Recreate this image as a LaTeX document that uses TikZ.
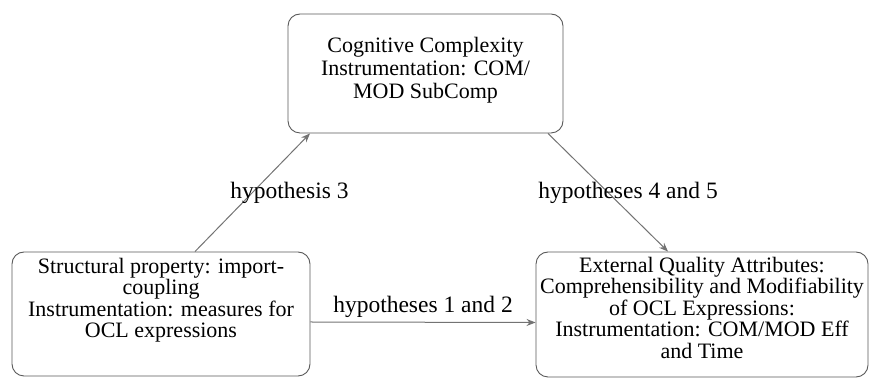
\documentclass[tikz,border=0pt]{standalone}
\usepackage{fontspec}
\setmainfont{Liberation Serif}
\usepackage{xcolor}
\usepackage{tikz}
\usetikzlibrary{shapes,arrows.meta,positioning,calc}

\begin{document}
\begin{tikzpicture}[
    x=1pt, y=1pt,
    box/.style={rectangle, draw=black!65, rounded corners=12pt, line width=0.9pt},
    boxtext/.style={align=center, font=\fontsize{22}{21.5}\selectfont, inner sep=0pt},
    arrow/.style={-{Stealth[length=9pt,width=7pt]}, draw=black!55, line width=1pt},
    hyp/.style={font=\fontsize{23.5}{26}\selectfont}
]
\useasboundingbox (0,0) rectangle (872,379);
% boxes
\node[box, minimum width=275pt, minimum height=119pt] (cogn) at (425.5, 305.5) {};
\node[box, minimum width=298pt, minimum height=124pt] (struct) at (161, 65) {};
\node[box, minimum width=332pt, minimum height=125pt] (extern) at (702, 64.5) {};
% texts
\node[boxtext, font=\fontsize{22}{23}\selectfont] (cogntxt) at ([yshift=3pt]cogn.center) {Cognitive Complexity\\Instrumentation: COM/\\MOD SubComp};
\node[boxtext] (structtxt) at ([yshift=14pt]struct.center) {Structural property: import-\\coupling\\Instrumentation: measures for\\OCL expressions};
\node[boxtext] (externtxt) at ([yshift=7pt]extern.center) {External Quality Attributes:\\Comprehensibility and Modifiability\\of OCL Expressions:\\Instrumentation: COM/MOD Eff\\and Time};

\draw[arrow] ([xshift=34pt]struct.north) -- node[hyp, xshift=37pt] (h3) {hypothesis 3} ([xshift=-115.5pt]cogn.south);
\draw[arrow] ([xshift=122.5pt]cogn.south) -- node[hyp, xshift=20pt] (h45) {hypotheses 4 and 5} ([xshift=-34pt]extern.north);
\draw[arrow] ([yshift=-8pt]struct.east) -- node[hyp, above=1pt] (h12) {hypotheses 1 and 2} ([yshift=-8pt]extern.west);
\end{tikzpicture}
\end{document}
